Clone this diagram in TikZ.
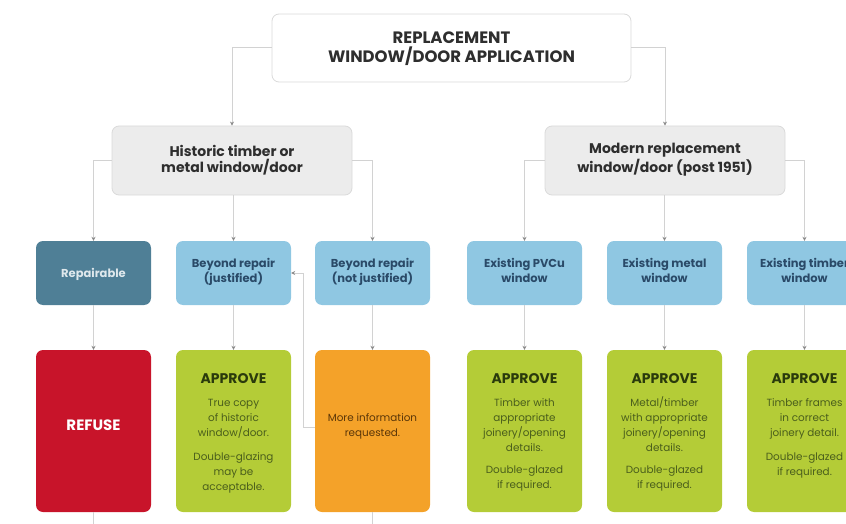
\documentclass[tikz,border=0pt]{standalone}
\usepackage{fontspec}
\setmainfont{Poppins}
\usetikzlibrary{arrows.meta}
\definecolor{linegray}{HTML}{D2D2D2}
\definecolor{tipgray}{HTML}{8A8A8A}
\definecolor{boxgray}{HTML}{ECECEC}
\definecolor{bordgray}{HTML}{DADADA}
\definecolor{steel}{HTML}{4F7F96}
\definecolor{lblue}{HTML}{8FC7E2}
\definecolor{navy}{HTML}{2A4A68}
\definecolor{refred}{HTML}{C8142A}
\definecolor{appgreen}{HTML}{B4CC37}
\definecolor{darkgreen}{HTML}{2A3A0C}
\definecolor{midgreen}{HTML}{4A5E1C}
\definecolor{orng}{HTML}{F4A229}
\definecolor{brown}{HTML}{5A3608}
\definecolor{txtgray}{HTML}{2E2E2E}
\tikzset{
  x=1pt, y=-1pt,
  conn/.style={draw=linegray, line width=0.9pt, -{Stealth[length=4pt,width=4pt,color=tipgray]}},
  plain/.style={draw=linegray, line width=0.9pt},
  topbox/.style={draw=bordgray, line width=0.8pt, fill=white, rounded corners=7pt, minimum width=359pt, minimum height=68pt},
  midbox/.style={draw=bordgray, line width=0.8pt, fill=boxgray, rounded corners=7pt, minimum width=240pt, minimum height=69pt},
  rowbox/.style={rounded corners=7pt, minimum width=115pt, minimum height=64pt},
  bigbox/.style={rounded corners=7pt, minimum width=115pt, minimum height=162pt},
  txt/.style={anchor=base, align=center, inner sep=0pt},
  toptxt/.style={txt, text=txtgray, font=\bfseries\fontsize{16.5}{19}\selectfont},
  midtxt/.style={txt, text=txtgray, font=\bfseries\fontsize{14}{16}\selectfont},
  rowtxt/.style={txt, text=navy, font=\bfseries\fontsize{11.5}{15}\selectfont},
  apptitle/.style={txt, text=darkgreen, font=\bfseries\fontsize{14}{16}\selectfont},
  appbody/.style={txt, text=midgreen, font=\fontsize{10.4}{15}\selectfont},
}
\begin{document}
\begin{tikzpicture}
\useasboundingbox (0,0) rectangle (846,524);
% boxes
\node[topbox] (top) at (451.5,48) {};
\node[midbox] (hist) at (232,160.5) {};
\node[midbox] (mod) at (665,160.5) {};
\node[rowbox, fill=steel] (rep) at (93.5,273) {};
\node[rowbox, fill=lblue] (bj) at (233.5,273) {};
\node[rowbox, fill=lblue] (bn) at (372.5,273) {};
\node[rowbox, fill=lblue] (pvc) at (524.5,273) {};
\node[rowbox, fill=lblue] (met) at (664.5,273) {};
\node[rowbox, fill=lblue] (tim) at (804.5,273) {};
\node[bigbox, fill=refred] (ref) at (93.5,431) {};
\node[bigbox, fill=appgreen] (app1) at (233.5,431) {};
\node[bigbox, fill=orng] (info) at (372.5,431) {};
\node[bigbox, fill=appgreen] (app2) at (524.5,431) {};
\node[bigbox, fill=appgreen] (app3) at (664.5,431) {};
\node[bigbox, fill=appgreen] (app4) at (804.5,431) {};
% texts
\node[toptxt] (topt) at (451.5,63) {REPLACEMENT\\WINDOW/DOOR APPLICATION};
\node[midtxt] (histt) at (232,172) {Historic timber or\\metal window/door};
\node[midtxt] (modt) at (665,172) {Modern replacement\\window/door (post 1951)};
\node[rowtxt, text=white!82!steel] (rept) at (93.5,277) {Repairable};
\node[rowtxt] (bjt) at (233.5,282) {Beyond repair\\(justified)};
\node[rowtxt] (bnt) at (372.5,282) {Beyond repair\\(not justified)};
\node[rowtxt] (pvct) at (524.5,282) {Existing PVCu\\window};
\node[rowtxt] (mett) at (664.5,282) {Existing metal\\window};
\node[rowtxt] (timt) at (804.5,282) {Existing timber\\window};
\node[txt, text=white, font=\bfseries\fontsize{15}{16}\selectfont] (reft) at (93.5,430) {REFUSE};
\node[appbody, text=brown] (infot) at (372.5,436) {More information\\requested.};
\node[apptitle] (t1) at (233.5,383) {APPROVE};
\node[appbody] (b1a) at (233.5,436) {True copy\\of historic\\window/door.};
\node[appbody] (b1b) at (233.5,490) {Double-glazing\\may be\\acceptable.};
\node[apptitle] (t2) at (524.5,383) {APPROVE};
\node[appbody] (b2a) at (524.5,451) {Timber with\\appropriate\\joinery/opening\\details.};
\node[appbody] (b2b) at (524.5,488) {Double-glazed\\if required.};
\node[apptitle] (t3) at (664.5,383) {APPROVE};
\node[appbody] (b3a) at (664.5,451) {Metal/timber\\with appropriate\\joinery/opening\\details.};
\node[appbody] (b3b) at (664.5,488) {Double-glazed\\if required.};
\node[apptitle] (t4) at (804.5,383) {APPROVE};
\node[appbody] (b4a) at (804.5,436) {Timber frames\\in correct\\joinery detail.};
\node[appbody] (b4b) at (804.5,475) {Double-glazed\\if required.};
% connectors top
\draw[conn] (top.west |- 0,47) -| (hist.north);
\draw[conn] (top.east |- 0,47) -| (mod.north);
% historic
\draw[conn] (hist.west |- 0,160) -| (rep.north);
\draw[conn] (hist.south -| bj.north) -- (bj.north);
\draw[conn] (hist.east |- 0,160) -| (bn.north);
% modern
\draw[conn] (mod.west |- 0,160) -| (pvc.north);
\draw[conn] (mod.south -| met.north) -- (met.north);
\draw[conn] (mod.east |- 0,160) -| (tim.north);
% row2 to row3
\draw[conn] (rep) -- (ref);
\draw[conn] (bj) -- (app1);
\draw[conn] (bn) -- (info);
\draw[conn] (pvc) -- (app2);
\draw[conn] (met) -- (app3);
\draw[conn] (tim) -- (app4);
% feedback
\coordinate (fb) at (303,427);
\draw[conn] (info.west |- fb) -- (fb) -- (303,273) -- (bj.east |- 0,273);
% bottom continuations
\coordinate (refdown) at (93.5,524);
\coordinate (infodown) at (372.5,524);
\draw[plain] (ref.south) -- (refdown);
\draw[plain] (info.south) -- (infodown);
\end{tikzpicture}
\end{document}
